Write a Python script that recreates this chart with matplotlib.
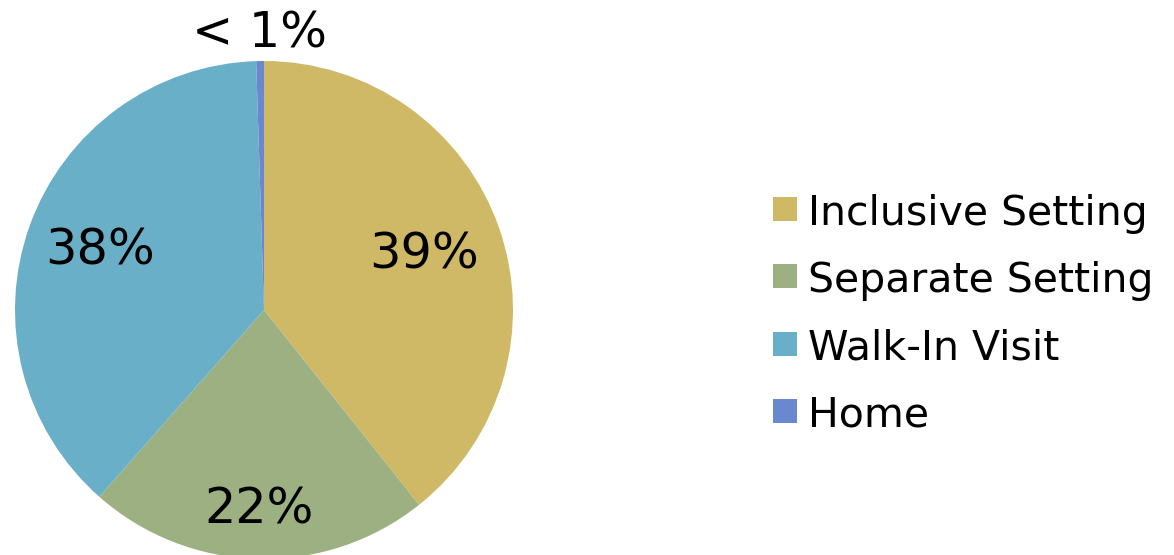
import numpy as np
import matplotlib
matplotlib.use("Agg")
import matplotlib.pyplot as plt
from matplotlib.patches import Rectangle

categories = ["Inclusive Setting", "Separate Setting", "Walk-In Visit", "Home"]
values = [39.3, 22.2, 38.0, 0.5]
labels = ["39%", "22%", "38%", "< 1%"]
colors = ["#CFB966", "#9DB082", "#6AAFC8", "#6A88CF"]
label_dist = [0.68, 0.80, 0.70, 1.11]

W, H = 1174, 555
fig = plt.figure(figsize=(W / 100, H / 100), dpi=100)
cx, cy, r = 264, 310, 249
ax = fig.add_axes([(cx - r) / W, (H - cy - r) / H, 2 * r / W, 2 * r / H])
wedges, _ = ax.pie(values, colors=colors, startangle=90, counterclock=False,
                   wedgeprops=dict(linewidth=0))
ax.set_xlim(-1, 1)
ax.set_ylim(-1, 1)
ax.set_aspect("equal")
for w, lab, d in zip(wedges, labels, label_dist):
    mid = np.deg2rad((w.theta1 + w.theta2) / 2)
    ax.text(d * np.cos(mid), d * np.sin(mid), lab, ha="center", va="center",
            fontsize=35.5, color="black", clip_on=False)

# legend
y0, dy = 209, 67.3
for i, (cat, col) in enumerate(zip(categories, colors)):
    yc = y0 + i * dy
    fig.patches.append(Rectangle(((773) / W, (H - yc - 12) / H), 24 / W, 24 / H,
                                 transform=fig.transFigure, facecolor=col, edgecolor="none"))
    fig.text(808 / W, (H - yc) / H, cat, ha="left", va="center_baseline", fontsize=29.5,
             color="black")

fig.savefig("out.png", dpi=100)
